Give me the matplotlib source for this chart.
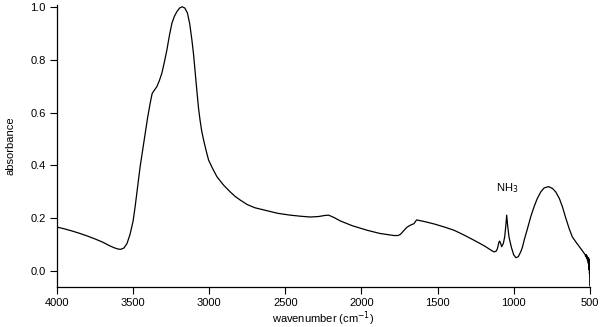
import matplotlib
matplotlib.use("Agg")
import matplotlib.pyplot as plt

plt.rcParams['font.family'] = ['Liberation Sans', 'DejaVu Sans']

wavenumber = [4000, 3950, 3900, 3850, 3800, 3750, 3700, 3660, 3630, 3600, 3580, 3560, 3540, 3520,
              3500, 3487, 3470, 3454, 3437, 3421, 3405, 3388, 3375, 3360, 3344, 3328, 3311, 3295,
              3278, 3262, 3245, 3228, 3212, 3195, 3178, 3160, 3143, 3128, 3114, 3103, 3092, 3080,
              3070, 3060, 3050, 3037, 3020, 3004, 2975, 2949, 2905, 2862, 2830, 2796, 2750, 2700, 2620,
              2550, 2467, 2400, 2336, 2280, 2240, 2215, 2180, 2138, 2060, 1963, 1880, 1787, 1760,
              1743, 1720, 1700, 1675, 1655, 1645, 1638, 1620, 1580, 1524, 1460, 1392, 1330, 1260,
              1190, 1150, 1129, 1115, 1107, 1097, 1092, 1085, 1079, 1068, 1059, 1052, 1046, 1040,
              1031, 1015, 1000, 985, 970, 954, 943, 930, 910, 888, 866, 845, 822, 800, 771, 745,
              724, 700, 680, 660, 636, 615, 592, 565, 545, 537, 530, 527, 524, 520, 517, 515, 512,
              510, 508, 507, 505, 504, 503, 502, 501, 500]
absorbance = [0.167, 0.160, 0.152, 0.143, 0.133, 0.122, 0.110, 0.098, 0.090, 0.084, 0.083, 0.088, 0.105, 0.140,
              0.190, 0.243, 0.320, 0.395, 0.460, 0.520, 0.580, 0.635, 0.672, 0.685, 0.698, 0.720, 0.749, 0.790,
              0.837, 0.890, 0.938, 0.965, 0.982, 0.995, 1.000, 0.995, 0.976, 0.935, 0.875, 0.820, 0.749, 0.675,
              0.615, 0.570, 0.532, 0.496, 0.455, 0.420, 0.385, 0.357, 0.325, 0.300, 0.283, 0.269, 0.252, 0.240, 0.229,
              0.219, 0.212, 0.208, 0.205, 0.207, 0.211, 0.212, 0.203, 0.190, 0.172, 0.155, 0.143, 0.135, 0.135,
              0.140, 0.155, 0.167, 0.175, 0.180, 0.188, 0.194, 0.192, 0.187, 0.179, 0.168, 0.155, 0.138, 0.117,
              0.095, 0.080, 0.073, 0.076, 0.085, 0.110, 0.114, 0.104, 0.093, 0.105, 0.130, 0.170, 0.212, 0.175,
              0.130, 0.090, 0.062, 0.051, 0.055, 0.073, 0.090, 0.120, 0.160, 0.206, 0.244, 0.275, 0.300, 0.315, 0.320, 0.313,
              0.300, 0.275, 0.244, 0.205, 0.162, 0.130, 0.111, 0.090, 0.074, 0.068, 0.062, 0.055, 0.063, 0.048, 0.058, 0.040, 0.052,
              0.030, 0.050, 0.015, 0.045, 0.005, 0.035, -0.010, 0.025, -0.055]

yticks = [0.0, 0.2, 0.4, 0.6, 0.8, 1.0]
xticks = [4000, 3500, 3000, 2500, 2000, 1500, 1000, 500]

fig = plt.figure(figsize=(6, 3.27), dpi=100)
ax = fig.add_axes([0.095, 0.122, 0.888, 0.863])
ax.plot(wavenumber, absorbance, color='black', lw=0.9)
ax.set_xlim(4000, 500)
ax.set_ylim(-0.06, 1.007)
ax.set_xticks(xticks)
ax.set_xticklabels([str(t) for t in xticks])
ax.set_yticks(yticks)
ax.set_yticklabels([f"{t:.1f}" for t in yticks])
for s in ['top', 'right']:
    ax.spines[s].set_visible(False)
for s in ['left', 'bottom']:
    ax.spines[s].set_linewidth(0.9)
ax.tick_params(direction='out', length=5, width=0.8, labelsize=8, pad=3)
ax.set_xlabel('wavenumber (cm$^{-1}$)', fontsize=8, labelpad=1)
ax.set_ylabel('absorbance', fontsize=8, labelpad=11)
ax.text(1040, 0.315, 'NH$_3$', fontsize=8, ha='center', va='center')
fig.savefig('out.png', dpi=100)
